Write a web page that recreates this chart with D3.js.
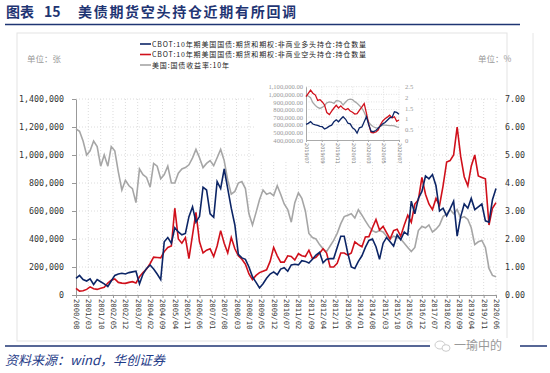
<!DOCTYPE html>
<html>
<head>
<meta charset="utf-8">
<title>美债期货空头持仓</title>
<script src="https://d3js.org/d3.v7.min.js"></script>
<style>
  body { margin: 0; background: #fff; }
  svg { display: block; }
  .cjk { font-family: "Noto Sans CJK SC", sans-serif; }
  .num { font-family: "DejaVu Sans Mono", monospace; }
</style>
</head>
<body>
<div id="chart"></div>
<script>
// ---- data (every 2 months 2000/08 .. 2020/06) ----
const longPos = [119,140,110,100,115,75,110,95,80,60,100,140,150,155,150,160,165,170,80,150,
  190,214,185,150,110,380,410,370,480,450,430,440,560,630,520,560,770,750,580,555,
  810,760,900,760,620,500,290,265,255,200,130,90,50,80,120,150,165,145,185,195,
  170,215,220,215,245,240,228,255,285,305,230,255,260,260,340,420,420,300,200,190,
  240,280,340,390,400,345,255,370,410,380,350,430,395,450,430,670,580,690,740,850,
  830,860,780,600,620,565,615,670,420,560,650,620,690,610,630,650,530,520,680,760];
const shortPos = [48,28,30,40,58,45,40,48,55,85,105,115,90,85,83,90,95,85,130,160,
  185,225,270,268,265,310,340,350,620,400,370,410,260,430,590,380,300,320,330,275,
  350,460,370,300,410,330,280,255,220,150,110,140,160,170,180,240,340,280,235,235,
  280,275,250,295,280,275,320,260,270,298,330,300,200,200,226,300,300,285,300,380,
  360,345,415,417,480,540,464,490,445,400,460,470,420,500,570,520,650,680,840,720,
  650,610,690,640,780,950,960,1000,1200,990,845,780,920,1000,850,840,830,500,620,660];
const yield10 = [5.93,5.85,5.5,5.0,5.15,5.5,5.3,4.6,5.0,4.6,5.3,5.15,4.4,3.75,4.1,3.9,3.8,3.3,4.5,4.3,
  4.2,3.85,4.7,4.6,4.15,4.3,4.6,4.0,4.0,4.35,4.5,4.55,4.65,4.9,5.2,4.9,4.55,4.7,4.8,4.62,
  4.9,5.2,4.8,4.1,3.6,3.7,4.0,4.05,3.8,2.9,2.5,2.95,3.4,3.75,3.6,3.65,3.55,3.9,3.6,3.25,
  3.05,2.6,3.3,3.65,3.45,3.0,2.2,2.05,2.0,1.8,1.65,1.55,1.75,1.95,2.2,2.55,2.8,2.85,2.9,2.75,
  3.05,2.85,2.65,2.45,2.3,2.24,2.3,2.25,2.1,2.0,2.1,2.05,2.0,1.85,1.7,1.55,1.7,2.3,2.45,2.4,
  2.5,2.25,2.35,2.5,2.8,2.9,3.05,2.9,3.05,2.75,2.8,2.7,2.4,1.8,1.9,1.95,1.7,0.95,0.7,0.65];
const dates = d3.timeMonth.range(new Date(2000, 7, 1), new Date(2020, 7, 1), 2);

const xTickLabels = ["2000/08","2001/03","2001/10","2002/05","2002/12","2003/07","2004/02","2004/09",
  "2005/04","2005/11","2006/06","2007/01","2007/08","2008/03","2008/10","2009/05","2009/12","2010/07",
  "2011/02","2011/09","2012/04","2012/11","2013/06","2014/01","2014/08","2015/03","2015/10","2016/05",
  "2016/12","2017/07","2018/02","2018/09","2019/04","2019/11","2020/06"];
const leftTicks = [0,200000,400000,600000,800000,1000000,1200000,1400000];
const rightTicks = [0,1,2,3,4,5,6,7];

// inset: 2019/07 .. 2020/07, roughly every 9 days
const insetLong = [606,619,641,610,598,592,578,575,545,560,582,595,640,665,640,675,705,672,620,612,
  560,540,490,560,572,640,706,600,515,509,525,555,585,612,630,660,690,700,770,762,737];
const insetShort = [969,1012,1056,1015,990,920,930,900,860,760,735,780,820,855,820,848,816,796,812,780,
  765,740,745,790,835,878,750,605,500,495,505,530,600,650,680,700,725,690,705,645,663];
const insetYield = [2.11,2.06,1.98,1.75,1.62,1.53,1.48,1.53,1.62,1.74,1.79,1.77,1.72,1.85,1.84,1.78,1.64,1.78,1.89,1.92,
  1.89,1.80,1.72,1.62,1.50,1.30,1.05,0.84,0.70,0.62,0.57,0.58,0.64,0.70,0.70,0.69,0.67,0.67,0.66,0.62,0.59];
const insetDates = insetLong.map((d, i) => d3.timeDay.offset(new Date(2019, 6, 1), Math.round(i * 9.15)));
const insetXTicks = ["2019/07","2019/09","2019/11","2020/01","2020/03","2020/05","2020/07"];
const insetLeftTicks = [400000,500000,600000,700000,800000,900000,1000000,1100000];
const insetRightTicks = [0,0.5,1,1.5,2,2.5];

const legendNames = ["CBOT:10年期美国国债:期货和期权:非商业多头持仓:持仓数量",
  "CBOT:10年期美国国债:期货和期权:非商业空头持仓:持仓数量",
  "美国:国债收益率:10年"];

const BLUE = "#0c2566", RED = "#d0101b", GRAY = "#a6a6a6", NAVY = "#1f3573";
const W = 550, H = 373;
const parse = d3.timeParse("%Y/%m");

const svg = d3.select("#chart").append("svg").attr("width", W).attr("height", H);
svg.append("rect").attr("width", W).attr("height", H).attr("fill", "#fff");

// title + rules
const title = svg.append("text").attr("class", "cjk").attr("y", 17)
  .attr("fill", NAVY).attr("font-size", 14).attr("font-weight", 700);
title.append("tspan").attr("x", 6).text("图表");
title.append("tspan").attr("x", 44).text("15");
title.append("tspan").attr("x", 78).attr("letter-spacing", 1.7).text("美债期货空头持仓近期有所回调");
svg.append("line").attr("x1", 5).attr("x2", 520).attr("y1", 24.5).attr("y2", 24.5)
  .attr("stroke", NAVY).attr("stroke-width", 1.5);

// frame
svg.append("rect").attr("x", 17).attr("y", 33).attr("width", 490).attr("height", 308)
  .attr("fill", "none").attr("stroke", "#e3e3e3");
svg.append("line").attr("x1", 533).attr("x2", 533).attr("y1", 33).attr("y2", 341).attr("stroke", "#e6e6e6");

// scales
const x = d3.scaleTime().domain([new Date(2000, 7, 1), new Date(2020, 5, 1)]).range([76, 496]);
const yL = d3.scaleLinear().domain([0, 1400000]).range([295, 99]);
const yR = d3.scaleLinear().domain([0, 7]).range([295, 99]);

// grid
const grid = svg.append("g").attr("stroke", "#dcdcdc").attr("stroke-dasharray", "1,2");
grid.selectAll(".h").data(leftTicks.slice(1)).join("line")
  .attr("x1", 76).attr("x2", 496).attr("y1", d => yL(d)).attr("y2", d => yL(d));
grid.selectAll(".v").data(xTickLabels.slice(1)).join("line")
  .attr("x1", d => x(parse(d))).attr("x2", d => x(parse(d))).attr("y1", 99).attr("y2", 295);

// axes
const gx = svg.append("g").attr("transform", "translate(0,295)")
  .call(d3.axisBottom(x).tickValues(xTickLabels.map(parse)).tickFormat(d3.timeFormat("%Y/%m")).tickSize(3).tickSizeOuter(0));
gx.select(".domain").attr("stroke", "#999");
gx.selectAll(".tick line").attr("stroke", "#999");
gx.selectAll("text").attr("class", "num").attr("font-size", 7.2).attr("fill", "#333")
  .attr("transform", "rotate(90)").attr("x", 4).attr("y", 0).attr("dy", "0.35em").style("text-anchor", "start");

const gl = svg.append("g").attr("transform", "translate(76,0)")
  .call(d3.axisLeft(yL).tickValues(leftTicks).tickFormat(d3.format(",")).tickSize(4).tickPadding(8).tickSizeOuter(0));
gl.select(".domain").attr("stroke", "#999");
gl.selectAll(".tick line").attr("stroke", "#999");
gl.selectAll("text").attr("class", "num").attr("font-size", 8.3).attr("fill", "#333");

const gr = svg.append("g").attr("transform", "translate(500,0)")
  .call(d3.axisRight(yR).tickValues(rightTicks).tickFormat(d3.format(".2f")).tickSize(0).tickPadding(5));
gr.select(".domain").remove();
gr.selectAll("text").attr("class", "num").attr("font-size", 8.3).attr("fill", "#333");

// unit labels
svg.append("text").attr("class", "cjk").attr("x", 27).attr("y", 62).attr("font-size", 8.5).attr("fill", "#999").text("单位：张");
svg.append("text").attr("class", "cjk").attr("x", 478).attr("y", 62).attr("font-size", 8.5).attr("fill", "#999").text("单位：%");

// series
const lineL = d3.line().x((d, i) => x(dates[i])).y(d => yL(d * 1000));
const lineR = d3.line().x((d, i) => x(dates[i])).y(d => yR(d));
svg.append("path").datum(yield10).attr("d", lineR).attr("fill", "none").attr("stroke", GRAY).attr("stroke-width", 1.6);
svg.append("path").datum(shortPos).attr("d", lineL).attr("fill", "none").attr("stroke", RED).attr("stroke-width", 1.6);
svg.append("path").datum(longPos).attr("d", lineL).attr("fill", "none").attr("stroke", BLUE).attr("stroke-width", 1.6);

// legend
const lg = svg.append("g");
legendNames.forEach((name, i) => {
  const ly = 44 + i * 10.5;
  lg.append("line").attr("x1", 140).attr("x2", 151).attr("y1", ly).attr("y2", ly)
    .attr("stroke", [BLUE, RED, GRAY][i]).attr("stroke-width", 1.6);
  lg.append("text").attr("class", "cjk").attr("x", 152).attr("y", ly + 2.5)
    .attr("font-size", 7).attr("letter-spacing", 0.85).attr("fill", "#222").text(name);
});

// inset
const ix = d3.scaleTime().domain([new Date(2019, 6, 1), new Date(2020, 6, 1)]).range([306, 399]);
const iyL = d3.scaleLinear().domain([400000, 1100000]).range([140, 86.7]);
const iyR = d3.scaleLinear().domain([0, 2.5]).range([140, 86.7]);
const inset = svg.append("g");
inset.append("rect").attr("x", 256).attr("y", 82).attr("width", 160).attr("height", 80).attr("fill", "#fff");
const ig = inset.append("g").attr("stroke", "#e2e2e2").attr("stroke-dasharray", "1,1.5");
ig.selectAll(".h").data(insetLeftTicks.slice(1)).join("line")
  .attr("x1", 306).attr("x2", 399).attr("y1", d => iyL(d)).attr("y2", d => iyL(d));
ig.selectAll(".v").data(insetXTicks.slice(1)).join("line")
  .attr("x1", d => ix(parse(d))).attr("x2", d => ix(parse(d))).attr("y1", 86.7).attr("y2", 140);

const igx = inset.append("g").attr("transform", "translate(0,140)")
  .call(d3.axisBottom(ix).tickValues(insetXTicks.map(parse)).tickFormat(d3.timeFormat("%Y/%m")).tickSize(2).tickSizeOuter(0));
igx.select(".domain").attr("stroke", "#aaa");
igx.selectAll(".tick line").attr("stroke", "#aaa");
igx.selectAll("text").attr("font-family", "DejaVu Sans").attr("font-size", 5).attr("fill", "#777")
  .attr("transform", "rotate(90)").attr("x", 3).attr("y", 0).attr("dy", "0.35em").style("text-anchor", "start");

const igl = inset.append("g").attr("transform", "translate(306,0)")
  .call(d3.axisLeft(iyL).tickValues(insetLeftTicks).tickFormat(d3.format(",.2f")).tickSize(0).tickPadding(3));
igl.select(".domain").attr("stroke", "#aaa");
igl.selectAll("text").attr("font-family", "Liberation Serif").attr("font-size", 6.6).attr("fill", "#999");

const igr = inset.append("g").attr("transform", "translate(399,0)")
  .call(d3.axisRight(iyR).tickValues(insetRightTicks).tickFormat(d3.format("")).tickSize(0).tickPadding(6));
igr.select(".domain").remove();
igr.selectAll("text").attr("font-family", "Liberation Serif").attr("font-size", 6.6).attr("fill", "#999");

const ilL = d3.line().x((d, i) => ix(insetDates[i])).y(d => iyL(d * 1000));
const ilR = d3.line().x((d, i) => ix(insetDates[i])).y(d => iyR(d));
inset.append("path").datum(insetYield).attr("d", ilR).attr("fill", "none").attr("stroke", GRAY).attr("stroke-width", 1.3);
inset.append("path").datum(insetShort).attr("d", ilL).attr("fill", "none").attr("stroke", RED).attr("stroke-width", 1.3);
inset.append("path").datum(insetLong).attr("d", ilL).attr("fill", "none").attr("stroke", BLUE).attr("stroke-width", 1.3);

// footer
svg.append("line").attr("x1", 5).attr("x2", 547).attr("y1", 346).attr("y2", 346)
  .attr("stroke", NAVY).attr("stroke-width", 1.5);
svg.append("rect").attr("x", 430).attr("y", 338).attr("width", 90).attr("height", 16).attr("fill", "#fff");
svg.append("ellipse").attr("cx", 440).attr("cy", 345).attr("rx", 5).attr("ry", 4)
  .attr("fill", "none").attr("stroke", "#ccc");
svg.append("ellipse").attr("cx", 446).attr("cy", 348).attr("rx", 4).attr("ry", 3.3)
  .attr("fill", "#fff").attr("stroke", "#ccc");
svg.append("text").attr("class", "cjk").attr("x", 454).attr("y", 350).attr("font-size", 12)
  .attr("fill", "#999").text("一瑜中的");
svg.append("text").attr("class", "cjk").attr("x", 5).attr("y", 365).attr("font-size", 13)
  .attr("font-style", "italic").attr("fill", "#1f3c88").text("资料来源：wind，华创证券");
</script>
</body>
</html>
